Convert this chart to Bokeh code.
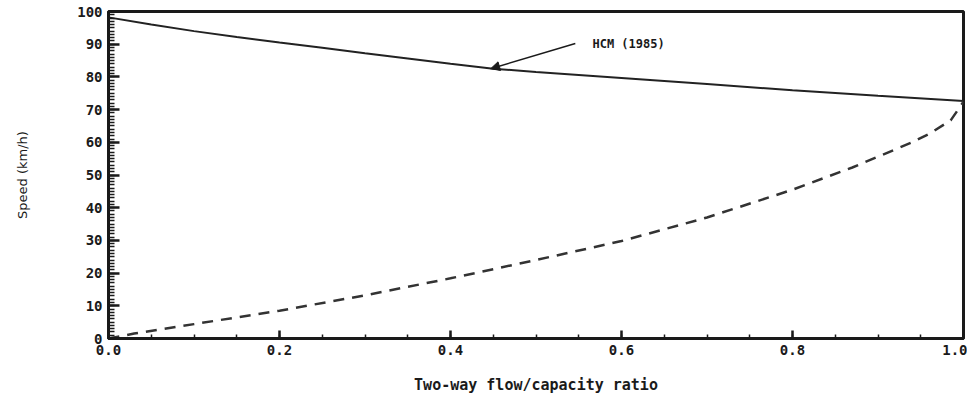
from bokeh.plotting import figure
from bokeh.models import FixedTicker, Arrow, NormalHead, Label, Range1d
from bokeh.embed import file_html
from bokeh.resources import INLINE

# data
hcm_x = [0.0, 0.05, 0.1, 0.15, 0.2, 0.25, 0.3, 0.35, 0.4, 0.45, 0.5, 0.6, 0.7, 0.8, 0.9, 1.0]
hcm_speed = [98.2, 96.0, 94.0, 92.2, 90.5, 88.9, 87.2, 85.6, 84.0, 82.5, 81.5, 79.7, 77.8, 75.9, 74.2, 72.6]

dash_x = [0.0, 0.03, 0.1, 0.2, 0.3, 0.4, 0.5, 0.6, 0.7, 0.8, 0.87, 0.94, 0.96, 0.985, 1.0]
dash_speed = [0.0, 1.5, 4.4, 8.5, 13.2, 18.4, 24.0, 29.8, 37.0, 45.5, 52.3, 60.0, 62.6, 66.7, 72.4]

x_ticks = [0.0, 0.2, 0.4, 0.6, 0.8, 1.0]
x_minor = [round(i * 0.05, 2) for i in range(21)]
y_ticks = list(range(0, 101, 10))
y_minor = list(range(0, 101, 1))

label_text = "HCM (1985)"
arrow_from = (0.546, 90.2)
arrow_to = (0.447, 82.5)
label_pos = (0.566, 90.0)

MONO = "DejaVu Sans Mono"
INK = "#1a1a1a"
TICK = "#1a1a1a"

p = figure(width=967, height=396, output_backend="svg", toolbar_location=None,
           x_range=Range1d(0, 1.0), y_range=Range1d(0, 100),
           min_border_left=108, min_border_right=4, min_border_top=11, min_border_bottom=0)
p.grid.visible = False
p.outline_line_color = INK
p.outline_line_width = 3

p.line(hcm_x, hcm_speed, line_color="#222222", line_width=2)
p.line(dash_x, dash_speed, line_color="#333333", line_width=2.5, line_dash="11 8")

p.add_layout(Arrow(end=NormalHead(size=9, fill_color=INK, line_color=INK),
                   x_start=arrow_from[0], y_start=arrow_from[1],
                   x_end=arrow_to[0], y_end=arrow_to[1],
                   line_color=INK, line_width=1.5))
p.add_layout(Label(x=label_pos[0], y=label_pos[1], text=label_text,
                   text_font=MONO, text_font_style="bold", text_font_size="12px",
                   text_color=INK, text_baseline="middle", text_align="left"))

xa = p.xaxis[0]
xa.ticker = FixedTicker(ticks=x_ticks, minor_ticks=x_minor)
xa.major_label_overrides = {t: f"{t:.1f}" for t in x_ticks}
xa.axis_label = "Two-way flow/capacity ratio"
xa.axis_label_text_font = MONO
xa.axis_label_text_font_style = "bold"
xa.axis_label_text_font_size = "15px"
xa.axis_label_text_color = INK
xa.axis_label_standoff = 18
xa.major_label_text_font = MONO
xa.major_label_text_font_style = "bold"
xa.major_label_text_font_size = "14px"
xa.major_label_text_color = INK
xa.major_label_standoff = 6
xa.axis_line_width = 3
xa.axis_line_color = INK
xa.major_tick_in = 8
xa.major_tick_out = 0
xa.minor_tick_in = 4
xa.minor_tick_out = 0
xa.major_tick_line_width = 2.5
xa.minor_tick_line_width = 1.5
xa.major_tick_line_color = TICK
xa.minor_tick_line_color = TICK

ya = p.yaxis[0]
ya.ticker = FixedTicker(ticks=y_ticks, minor_ticks=y_minor)
ya.axis_label = "Speed (km/h)"
ya.axis_label_text_font = "DejaVu Sans"
ya.axis_label_text_font_style = "normal"
ya.axis_label_text_font_size = "13px"
ya.axis_label_text_color = INK
ya.axis_label_standoff = 44
ya.major_label_text_font = MONO
ya.major_label_text_font_style = "bold"
ya.major_label_text_font_size = "14px"
ya.major_label_text_color = INK
ya.major_label_standoff = 6
ya.axis_line_width = 3
ya.axis_line_color = INK
ya.major_tick_in = 11
ya.major_tick_out = 0
ya.minor_tick_in = 6
ya.minor_tick_out = 0
ya.major_tick_line_width = 2.5
ya.minor_tick_line_width = 1.5
ya.major_tick_line_color = TICK
ya.minor_tick_line_color = TICK

open("out.html", "w").write(file_html(p, INLINE))
